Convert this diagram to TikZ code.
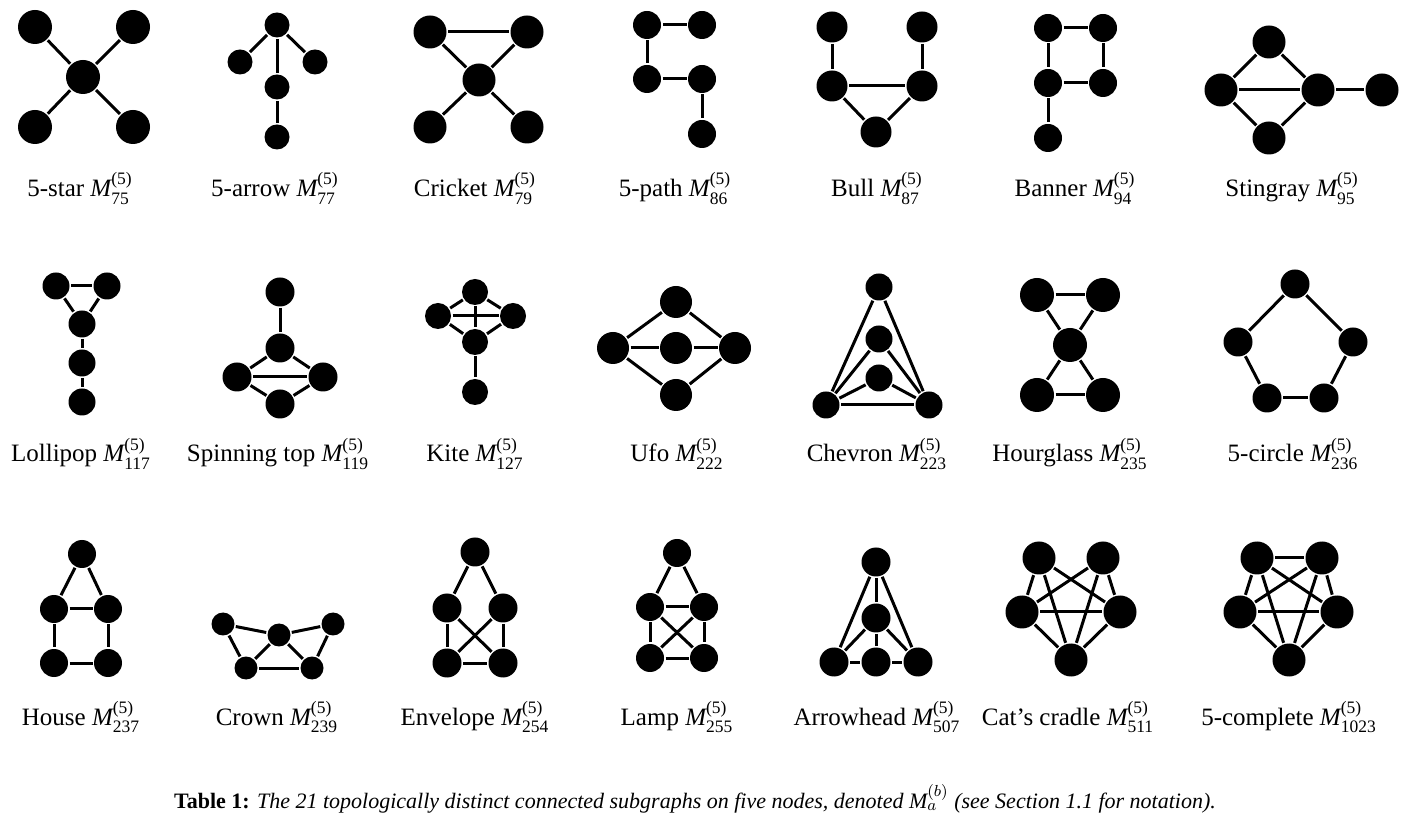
\documentclass[tikz,border=0pt]{standalone}
\usepackage{amsmath}
\usepackage{fontspec}
\setmainfont{Liberation Serif}
\newcommand{\motif}[2][(5)]{$\textit{M}^{\text{#1}}_{\text{#2}}$}

\begin{document}
\begin{tikzpicture} [x=0.5pt,y=-0.5pt,line width=1.5pt,
			dot/.style={circle,fill=black,inner sep=0pt,minimum size=#1},
			lbl/.style={anchor=base,font=\fontsize{12.5}{15}\selectfont}]
			\useasboundingbox (0,0) rectangle (1407,822);
			
			\node[dot=17pt] (st0) at (83,77) {};
			\node[dot=17pt] (st1) at (35,27) {};
			\node[dot=17pt] (st2) at (133,27) {};
			\node[dot=17pt] (st3) at (35,127) {};
			\node[dot=17pt] (st4) at (133,127) {};
			\foreach \b in {st1,st2,st3,st4}
			\draw (st0) -- (\b);
			\node[lbl] (l75) at (80,197) {5-star \motif{75}};
			
			\node[dot=12.5pt] (ar1) at (277,25) {};
			\node[dot=12.5pt] (ar2) at (240,62) {};
			\node[dot=12.5pt] (ar3) at (315,62) {};
			\node[dot=12.5pt] (ar4) at (277,87) {};
			\node[dot=12.5pt] (ar5) at (277,137) {};
			\foreach \a/\b in {ar1/ar2,ar1/ar3,ar1/ar4,ar4/ar5}
			\draw (\a) -- (\b);
			\node[lbl] (l77) at (275,197) {5-arrow \motif{77}};
			
			\node[dot=16.5pt] (cr0) at (479,80) {};
			\node[dot=16.5pt] (cr1) at (430,32) {};
			\node[dot=16.5pt] (cr2) at (527,32) {};
			\node[dot=16.5pt] (cr3) at (430,127) {};
			\node[dot=16.5pt] (cr4) at (527,127) {};
			\foreach \a/\b in {cr1/cr2,cr0/cr1,cr0/cr2,cr0/cr3,cr0/cr4}
			\draw (\a) -- (\b);
			\node[lbl] (l79) at (475,197) {Cricket \motif{79}};
			
			\node[dot=14pt] (pa1) at (647,25) {};
			\node[dot=14pt] (pa2) at (702,25) {};
			\node[dot=14pt] (pa3) at (647,79) {};
			\node[dot=14pt] (pa4) at (702,79) {};
			\node[dot=14pt] (pa5) at (702,134) {};
			\foreach \a/\b in {pa2/pa1,pa1/pa3,pa3/pa4,pa4/pa5}
			\draw (\a) -- (\b);
			\node[lbl] (l86) at (675,197) {5-path \motif{86}};
			
			\node[dot=15.5pt] (bu1) at (832,27) {};
			\node[dot=15.5pt] (bu2) at (922,27) {};
			\node[dot=15.5pt] (bu3) at (832,86) {};
			\node[dot=15.5pt] (bu4) at (922,86) {};
			\node[dot=15.5pt] (bu5) at (876,132) {};
			\foreach \a/\b in {bu1/bu3,bu2/bu4,bu3/bu4,bu3/bu5,bu4/bu5}
			\draw (\a) -- (\b);
			\node[lbl] (l87) at (877,197) {Bull \motif{87}};
			
			\node[dot=14pt] (ba1) at (1048,28) {};
			\node[dot=14pt] (ba2) at (1103,28) {};
			\node[dot=14pt] (ba3) at (1048,83) {};
			\node[dot=14pt] (ba4) at (1103,83) {};
			\node[dot=14pt] (ba5) at (1048,138) {};
			\foreach \a/\b in {ba1/ba2,ba1/ba3,ba2/ba4,ba3/ba4,ba3/ba5}
			\draw (\a) -- (\b);
			\node[lbl] (l94) at (1075,197) {Banner \motif{94}};
			
			\node[dot=16.5pt] (sr1) at (1269,42) {};
			\node[dot=16.5pt] (sr2) at (1221,90) {};
			\node[dot=16.5pt] (sr3) at (1318,90) {};
			\node[dot=16.5pt] (sr4) at (1269,138) {};
			\node[dot=16.5pt] (sr5) at (1382,90) {};
			\foreach \a/\b in {sr1/sr2,sr1/sr3,sr2/sr3,sr2/sr4,sr3/sr4,sr3/sr5}
			\draw (\a) -- (\b);
			\node[lbl] (l95) at (1292,197) {Stingray \motif{95}};
			
			\node[dot=13.5pt] (lo1) at (56,286) {};
			\node[dot=13.5pt] (lo2) at (107,286) {};
			\node[dot=13.5pt] (lo3) at (82,324) {};
			\node[dot=13.5pt] (lo4) at (82,363) {};
			\node[dot=13.5pt] (lo5) at (82,402) {};
			\foreach \a/\b in {lo1/lo2,lo1/lo3,lo2/lo3,lo3/lo4,lo4/lo5}
			\draw (\a) -- (\b);
			\node[lbl] (l117) at (81,462) {Lollipop \motif{117}};
			
			\node[dot=14.5pt] (sp1) at (280,292) {};
			\node[dot=14.5pt] (sp2) at (280,348) {};
			\node[dot=14.5pt] (sp3) at (237,377) {};
			\node[dot=14.5pt] (sp4) at (323,377) {};
			\node[dot=14.5pt] (sp5) at (280,404) {};
			\foreach \a/\b in {sp1/sp2,sp2/sp3,sp2/sp4,sp3/sp4,sp3/sp5,sp4/sp5}
			\draw (\a) -- (\b);
			\node[lbl] (l119) at (278,462) {Spinning top \motif{119}};
			
			\node[dot=13pt] (ki1) at (475,292) {};
			\node[dot=13pt] (ki2) at (438,316) {};
			\node[dot=13pt] (ki3) at (513,316) {};
			\node[dot=13pt] (ki4) at (475,342) {};
			\node[dot=13pt] (ki5) at (475,392) {};
			\foreach \a/\b in {ki1/ki2,ki1/ki3,ki2/ki4,ki3/ki4,ki2/ki3,ki1/ki4,ki4/ki5}
			\draw (\a) -- (\b);
			\node[lbl] (l127) at (475,462) {Kite \motif{127}};
			
			\node[dot=16pt] (uf1) at (676,302) {};
			\node[dot=16pt] (uf2) at (613,348) {};
			\node[dot=16pt] (uf3) at (676,348) {};
			\node[dot=16pt] (uf4) at (735,348) {};
			\node[dot=16pt] (uf5) at (676,395) {};
			\foreach \a/\b in {uf1/uf2,uf1/uf4,uf2/uf3,uf3/uf4,uf2/uf5,uf4/uf5}
			\draw (\a) -- (\b);
			\node[lbl] (l222) at (677,462) {Ufo \motif{222}};
			
			\node[dot=13.5pt] (ch1) at (879,287) {};
			\node[dot=13.5pt] (ch2) at (879,339) {};
			\node[dot=13.5pt] (ch3) at (879,378) {};
			\node[dot=13.5pt] (ch4) at (826,405) {};
			\node[dot=13.5pt] (ch5) at (929,405) {};
			\foreach \a/\b in {ch1/ch4,ch1/ch5,ch4/ch5,ch2/ch4,ch2/ch5,ch3/ch4,ch3/ch5}
			\draw (\a) -- (\b);
			\node[lbl] (l223) at (877,462) {Chevron \motif{223}};
			
			\node[dot=17pt] (ho0) at (1070,345) {};
			\node[dot=17pt] (ho1) at (1037,295) {};
			\node[dot=17pt] (ho2) at (1103,295) {};
			\node[dot=17pt] (ho3) at (1037,395) {};
			\node[dot=17pt] (ho4) at (1103,395) {};
			\foreach \a/\b in {ho1/ho2,ho0/ho1,ho0/ho2,ho0/ho3,ho0/ho4,ho3/ho4}
			\draw (\a) -- (\b);
			\node[lbl] (l235) at (1070,462) {Hourglass \motif{235}};
			
			\node[dot=14.5pt] (ci1) at (1295,284) {};
			\node[dot=14.5pt] (ci2) at (1238,342) {};
			\node[dot=14.5pt] (ci3) at (1353,342) {};
			\node[dot=14.5pt] (ci4) at (1267,398) {};
			\node[dot=14.5pt] (ci5) at (1324,398) {};
			\foreach \a/\b in {ci1/ci2,ci1/ci3,ci2/ci4,ci3/ci5,ci4/ci5}
			\draw (\a) -- (\b);
			\node[lbl] (l236) at (1293,462) {5-circle \motif{236}};
			
			\node[dot=14pt] (hs1) at (82,554) {};
			\node[dot=14pt] (hs2) at (54,609) {};
			\node[dot=14pt] (hs3) at (108,609) {};
			\node[dot=14pt] (hs4) at (54,663) {};
			\node[dot=14pt] (hs5) at (108,663) {};
			\foreach \a/\b in {hs1/hs2,hs1/hs3,hs2/hs3,hs2/hs4,hs3/hs5,hs4/hs5}
			\draw (\a) -- (\b);
			\node[lbl] (l237) at (81,725) {House \motif{237}};
			
			\node[dot=11.5pt] (cw0) at (279,635) {};
			\node[dot=11.5pt] (cw1) at (223,624) {};
			\node[dot=11.5pt] (cw2) at (333,624) {};
			\node[dot=11.5pt] (cw3) at (246,668) {};
			\node[dot=11.5pt] (cw4) at (312,668) {};
			\foreach \a/\b in {cw1/cw0,cw0/cw2,cw1/cw3,cw2/cw4,cw3/cw4,cw0/cw3,cw0/cw4}
			\draw (\a) -- (\b);
			\node[lbl] (l239) at (277,725) {Crown \motif{239}};
			
			\node[dot=14.5pt] (en1) at (475,552) {};
			\node[dot=14.5pt] (en2) at (447,608) {};
			\node[dot=14.5pt] (en3) at (503,608) {};
			\node[dot=14.5pt] (en4) at (447,663) {};
			\node[dot=14.5pt] (en5) at (503,663) {};
			\foreach \a/\b in {en1/en2,en1/en3,en2/en4,en3/en5,en4/en5,en2/en5,en3/en4}
			\draw (\a) -- (\b);
			\node[lbl] (l254) at (475,725) {Envelope \motif{254}};
			
			\node[dot=14pt] (la1) at (677,553) {};
			\node[dot=14pt] (la2) at (650,607) {};
			\node[dot=14pt] (la3) at (704,607) {};
			\node[dot=14pt] (la4) at (650,658) {};
			\node[dot=14pt] (la5) at (704,658) {};
			\foreach \a/\b in {la1/la2,la1/la3,la2/la3,la2/la4,la3/la5,la4/la5,la2/la5,la3/la4}
			\draw (\a) -- (\b);
			\node[lbl] (l255) at (677,725) {Lamp \motif{255}};
			
			\node[dot=14.5pt] (ah1) at (876,562) {};
			\node[dot=14.5pt] (ah2) at (876,618) {};
			\node[dot=14.5pt] (ah3) at (834,662) {};
			\node[dot=14.5pt] (ah4) at (876,662) {};
			\node[dot=14.5pt] (ah5) at (918,662) {};
			\foreach \a/\b in {ah1/ah3,ah1/ah5,ah1/ah2,ah2/ah3,ah2/ah4,ah2/ah5,ah3/ah4,ah4/ah5}
			\draw (\a) -- (\b);
			\node[lbl] (l507) at (877,725) {Arrowhead \motif{507}};
			
			\node[dot=16.5pt] (cc1) at (1039,558) {};
			\node[dot=16.5pt] (cc2) at (1103,558) {};
			\node[dot=16.5pt] (cc3) at (1022,612) {};
			\node[dot=16.5pt] (cc4) at (1120,612) {};
			\node[dot=16.5pt] (cc5) at (1071,660) {};
			\foreach \a/\b in {cc1/cc3,cc1/cc4,cc1/cc5,cc2/cc3,cc2/cc4,cc2/cc5,cc3/cc4,cc3/cc5,cc4/cc5}
			\draw (\a) -- (\b);
			\node[lbl] (l511) at (1068,725) {Cat's cradle \motif{511}};
			
			\node[dot=16.5pt] (co1) at (1257,558) {};
			\node[dot=16.5pt] (co2) at (1322,558) {};
			\node[dot=16.5pt] (co3) at (1240,612) {};
			\node[dot=16.5pt] (co4) at (1337,612) {};
			\node[dot=16.5pt] (co5) at (1289,660) {};
			\foreach \a/\b in {co1/co2,co1/co3,co1/co4,co1/co5,co2/co3,co2/co4,co2/co5,co3/co4,co3/co5,co4/co5}
			\draw (\a) -- (\b);
			\node[lbl] (l1023) at (1289,725) {5-complete \motif{1023}};
			
			\node[anchor=base,font=\fontsize{11}{13}\selectfont] (cap) at (695,808) {\textbf{Table 1:} \textit{The 21 topologically distinct connected subgraphs on five nodes, denoted \motif[$(b)$]{$a$}\ (see Section 1.1 for notation).}};
			\end{tikzpicture}
\end{document}
